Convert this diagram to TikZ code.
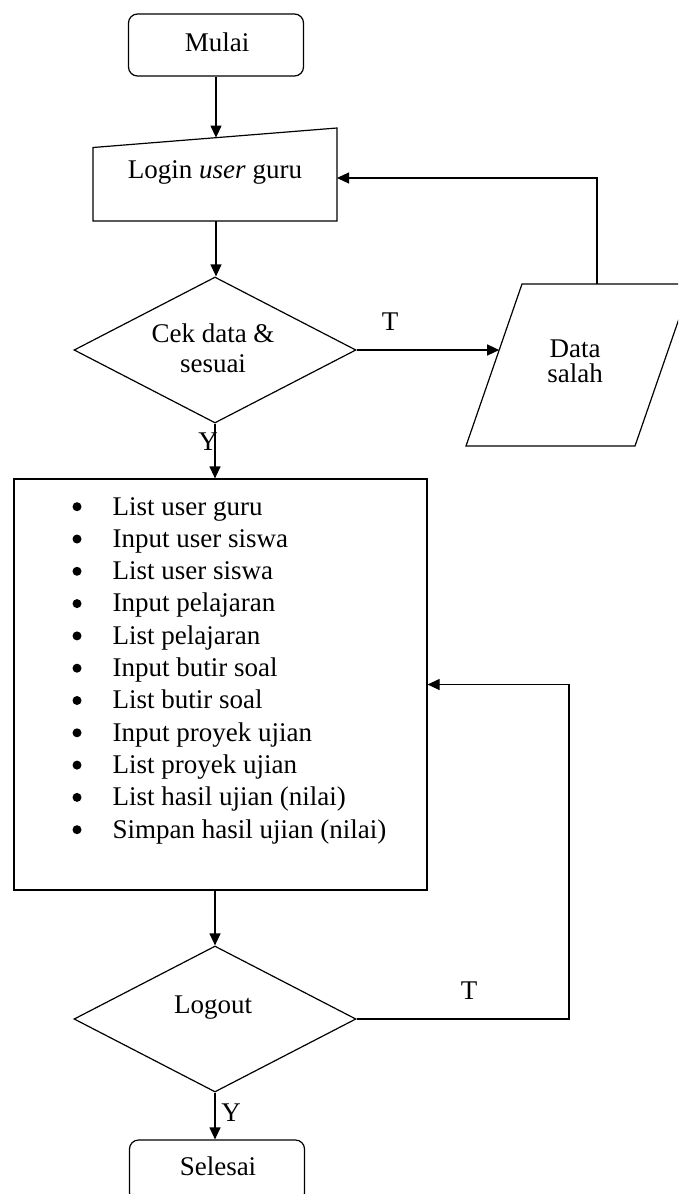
\documentclass[tikz,border=0pt]{standalone}
\usepackage{fontspec}
\setmainfont{Liberation Serif}
\usetikzlibrary{shapes.geometric,arrows.meta,calc}
\begin{document}
\begin{tikzpicture}[x=1pt,y=-1pt,
  line width=1.2pt,
  every node/.style={font=\fontsize{27}{32}\selectfont},
  terminal/.style={draw, rounded corners=9pt, minimum width=175pt, minimum height=62pt, inner sep=0pt},
  decision/.style={draw, diamond, minimum width=282pt, minimum height=146pt, inner sep=0pt},
  process/.style={draw, rectangle, inner sep=0pt},
  txt/.style={anchor=base, inner sep=0pt},
  flow/.style={-{Triangle[length=12pt,width=11pt]}}
]
\useasboundingbox (0,0) rectangle (678,1194);
\clip (0,0) rectangle (678,1194);

% start
\node[terminal] (mulai) at (216,45) {};
\node[txt] (mulaiT) at (217,51) {Mulai};

% manual input: login
\coordinate (li-tl) at (93,147.5);
\coordinate (li-tr) at (337,128);
\coordinate (li-br) at (337,221);
\coordinate (li-bl) at (93,221);
\draw (li-tl) -- (li-tr) -- (li-br) -- (li-bl) -- cycle;
\coordinate (li-in) at (216,137.6);
\coordinate (li-out) at (216,221);
\coordinate (li-ret) at (337,178);
\node[txt] (login) at (215,178) {Login \textit{user} guru};

% decision: check data
\node[decision] (cek) at (215,350) {};
\node[txt] (cek1) at (213,342) {Cek data \&};
\node[txt] (cek2) at (213,372) {sesuai};

% output: wrong data
\coordinate (ds-tl) at (522,284);
\coordinate (ds-tr) at (691,284);
\coordinate (ds-br) at (635,446);
\coordinate (ds-bl) at (466,446);
\draw (ds-tl) -- (ds-tr) -- (ds-br) -- (ds-bl) -- cycle;
\coordinate (ds-in) at (499.2,350);
\coordinate (ds-top) at (597,284);
\node[txt] (ds1) at (575,357) {Data};
\node[txt] (ds2) at (575,382) {salah};

% menu process
\node[process, minimum width=413pt, minimum height=411pt] (proc) at (220.5,684.5) {};
\foreach \t [count=\i] in {List user guru, Input user siswa, List user siswa,
    Input pelajaran, List pelajaran, Input butir soal, List butir soal,
    Input proyek ujian, List proyek ujian, List hasil ujian (nilai),
    Simpan hasil ujian (nilai)} {
  \fill (77,{515+32.3*(\i-1)-8.3}) circle[radius=4.5pt];
  \node[txt, anchor=base west] (item\i) at (112,{515+32.3*(\i-1)}) {\t};
}

% decision: logout
\node[decision] (logout) at (215,1019) {};
\node[txt] (logoutT) at (213,1013) {Logout};

% end
\node[terminal] (selesai) at (217,1171) {};
\node[txt] (selesaiT) at (218,1175) {Selesai};

% connectors
\draw[flow] (mulai.south -| li-in) -- (li-in);
\draw[flow] (li-out) -- (li-out |- cek.north);
\draw[flow] (cek.east) -- (ds-in);
\draw[flow] (ds-top) -- (ds-top |- li-ret) -- (li-ret);
\draw[flow] (cek.south) -- (cek.south |- proc.north);
\draw[flow] (logout.north |- proc.south) -- (logout.north);
\coordinate (loop-r) at (569,1019);
\draw[flow] (logout.east) -- (loop-r) -- (loop-r |- proc.east) -- (proc.east);
\draw[flow] (logout.south) -- (logout.south |- selesai.north);

% branch labels
\node[txt] (t1) at (390,330) {T};
\node[txt] (y1) at (208,450) {Y};
\node[txt] (t2) at (469,999) {T};
\node[txt] (y2) at (231,1121) {Y};
\end{tikzpicture}
\end{document}
